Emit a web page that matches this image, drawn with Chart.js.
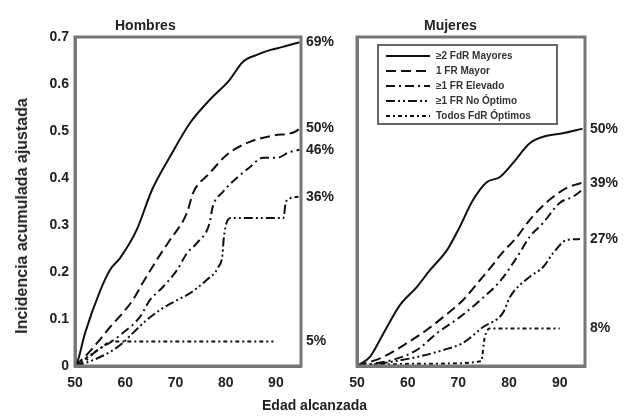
<!DOCTYPE html>
<html>
<head>
<meta charset="utf-8">
<script src="https://cdn.jsdelivr.net/npm/chart.js@4/dist/chart.umd.min.js"></script>
<style>
html,body{margin:0;padding:0;background:#fff;}
#wrap{position:relative;width:624px;height:420px;overflow:hidden;font-family:"Liberation Sans",Arial,sans-serif;}
canvas{position:absolute;top:0;}
.t{position:absolute;font-weight:bold;font-size:14px;color:#222;white-space:nowrap;}
</style>
</head>
<body>
<div id="wrap">
<canvas id="cH" width="340" height="420" style="left:0;width:340px;height:420px"></canvas>
<canvas id="cM" width="284" height="420" style="left:340px;width:284px;height:420px"></canvas>
<div class="t" style="left:115px;top:17px;">Hombres</div>
<div class="t" style="left:424px;top:17px;">Mujeres</div>
<div class="t" style="left:262px;top:397px;">Edad alcanzada</div>
<div class="t" style="left:22px;top:216px;font-size:16px;transform:translate(-50%,-50%) rotate(-90deg);">Incidencia acumulada ajustada</div>
</div>
<script>
// ---- data ----
const seriesNames = ['\u22652 FdR Mayores','1 FR Mayor','\u22651 FR Elevado','\u22651 FR No \u00d3ptimo','Todos FdR \u00d3ptimos'];
const xTicks = [50,60,70,80,90];
const yTicks = [0,0.1,0.2,0.3,0.4,0.5,0.6,0.7];

// Hombres
const hAgeMayores2 = [50,50.4,52,55,57,59,62.3,65.3,68.9,72.9,76.8,80.8,83.4,86.2,88.8,91.4,94.7];
const hValMayores2 = [0,0.006,0.07,0.16,0.205,0.23,0.29,0.374,0.445,0.517,0.566,0.609,0.647,0.662,0.672,0.679,0.689];
const hAgeMayor1 = [50,52,54.4,57,59.5,61.5,63.5,66.3,68.9,72.3,73.5,76.8,80.2,84.8,89.4,94.1,94.7];
const hValMayor1 = [0,0.02,0.049,0.083,0.113,0.14,0.177,0.226,0.268,0.326,0.368,0.41,0.449,0.477,0.49,0.5,0.506];
const hAgeElevado = [50,52,54,57,59.5,62.9,64.9,67.5,70.3,72.3,74.3,76.8,77.4,79.4,82.2,84.8,87.4,90.2,92.7,94.7];
const hValElevado = [0,0.01,0.03,0.05,0.07,0.104,0.14,0.168,0.204,0.24,0.262,0.304,0.338,0.37,0.4,0.423,0.443,0.443,0.455,0.46];
const hAgeNoOptimo = [50,53,57,59.5,61.5,64.3,66.9,70.3,72.9,76.2,78.5,79.4,79.6,81,91.5,92,94.5];
const hValNoOptimo = [0,0.01,0.03,0.049,0.07,0.098,0.119,0.14,0.155,0.183,0.21,0.24,0.27,0.315,0.315,0.35,0.36];
const hAgeOptimos = [50,52,54,56,57,89.5];
const hValOptimos = [0,0.015,0.03,0.045,0.052,0.052];
const hEndLabels = ['69%','50%','46%','36%','5%'];

// Mujeres
const mAgeMayores2 = [50,52.6,55,58.5,61.8,64.4,67.8,70,72.9,75.6,78.2,80.8,84.1,87.5,90.6,94.5];
const mValMayores2 = [0,0.02,0.065,0.13,0.168,0.204,0.247,0.29,0.353,0.391,0.402,0.432,0.474,0.49,0.495,0.505];
const mAgeMayor1 = [50,55.1,59.9,63.8,67,70.9,74.3,76.8,78.2,81.6,84.1,87.5,91.4,94.5];
const mValMayor1 = [0,0.019,0.049,0.077,0.104,0.14,0.183,0.215,0.235,0.275,0.311,0.349,0.379,0.39];
const mAgeElevado = [50,57,61.8,65.8,70.3,74.3,78.2,81.6,84.1,86.7,90,92.6,94.5];
const mValElevado = [0,0.013,0.034,0.07,0.104,0.14,0.18,0.232,0.275,0.304,0.347,0.36,0.375];
const mAgeNoOptimo = [50,55,61.8,67,70.9,74.9,78.8,80.2,84.1,86.7,88.7,91.4,94];
const mValNoOptimo = [0,0.006,0.019,0.034,0.049,0.083,0.113,0.147,0.19,0.21,0.24,0.268,0.27];
const mAgeOptimos = [50,55,65,74.5,75.2,76.2,90];
const mValOptimos = [0,0.003,0.005,0.01,0.06,0.08,0.08];
const mEndLabels = ['50%','39%','','27%','8%'];

// ---- styles ----
const dashes = [[],[10,5],[9,4,2,4],[9,3,2,3,2,3],[4,3,2,3]];
const widths = [2,2,2,2,2];
const FONT = '"Liberation Sans", Arial, sans-serif';

function zip(a,v){return a.map((x,i)=>({x:x,y:v[i]}));}
function mkDatasets(pairs){
  return pairs.map((p,i)=>({label:seriesNames[i],data:zip(p[0],p[1]),borderColor:'#111',backgroundColor:'#111',
    borderWidth:widths[i],borderDash:dashes[i],pointRadius:0,fill:false,cubicInterpolationMode:'monotone'}));
}

const framePlugin = {
  id:'frame',
  afterDraw(chart,args,opts){
    const c=chart.ctx, a=chart.chartArea;
    c.save();
    c.strokeStyle='#777'; c.lineWidth=3; c.setLineDash([]);
    c.strokeRect(a.left,a.top,a.right-a.left,a.bottom-a.top);
    c.fillStyle='#222'; c.font='bold 14px '+FONT; c.textBaseline='middle'; c.textAlign='left';
    chart.data.datasets.forEach((ds,i)=>{
      const t=opts.labels[i]; if(!t) return;
      const last=ds.data[ds.data.length-1];
      c.fillText(t,a.right+5,chart.scales.y.getPixelForValue(last.y));
    });
    if(opts.legend){
      const lx=a.left+21, ly=a.top+8, lw=179, lh=79;
      c.strokeStyle='#666'; c.lineWidth=2;
      c.strokeRect(lx,ly,lw,lh);
      c.font='bold 10px '+FONT; c.fillStyle='#333';
      chart.data.datasets.forEach((ds,i)=>{
        const y=ly+11+i*15;
        c.strokeStyle='#111'; c.lineWidth=2; c.setLineDash(ds.borderDash);
        c.beginPath(); c.moveTo(lx+8,y); c.lineTo(lx+52,y); c.stroke();
        c.setLineDash([]);
        c.fillText(ds.label,lx+58,y);
      });
    }
    c.restore();
  }
};

function makeChart(id,pairs,labels,showY,yWidth,rightPad,legend){
  return new Chart(document.getElementById(id),{
    type:'line',
    data:{datasets:mkDatasets(pairs)},
    plugins:[framePlugin],
    options:{
      responsive:false,animation:false,
      layout:{padding:{top:37,right:rightPad,bottom:0,left:0}},
      plugins:{legend:{display:false},tooltip:{enabled:false},frame:{labels:labels,legend:legend}},
      scales:{
        x:{type:'linear',min:50,max:95,
          afterBuildTicks(s){s.ticks=xTicks.map(v=>({value:v}));},
          afterFit(s){s.height=54;},
          grid:{display:false,drawTicks:true,tickLength:5,tickColor:'#777'},
          border:{display:true,color:'#777',width:3},
          ticks:{color:'#222',font:{family:FONT,size:14,weight:'bold'},padding:4,maxRotation:0}},
        y:{type:'linear',min:0,max:0.7,
          afterBuildTicks(s){s.ticks=yTicks.map(v=>({value:v}));},
          afterFit(s){s.width=yWidth;},
          grid:{display:false,drawTicks:true,tickLength:4,tickColor:'#777'},
          border:{display:true,color:'#777',width:3},
          ticks:{color:'#222',font:{family:FONT,size:14,weight:'bold'},padding:2,
            callback:(v)=>showY?(v===0?'0':v.toFixed(1)):''}}
      }
    }
  });
}

makeChart('cH',[[hAgeMayores2,hValMayores2],[hAgeMayor1,hValMayor1],[hAgeElevado,hValElevado],[hAgeNoOptimo,hValNoOptimo],[hAgeOptimos,hValOptimos]],hEndLabels,true,75,39,false);
makeChart('cM',[[mAgeMayores2,mValMayores2],[mAgeMayor1,mValMayor1],[mAgeElevado,mValElevado],[mAgeNoOptimo,mValNoOptimo],[mAgeOptimos,mValOptimos]],mEndLabels,false,17,39,true);
</script>
</body>
</html>
